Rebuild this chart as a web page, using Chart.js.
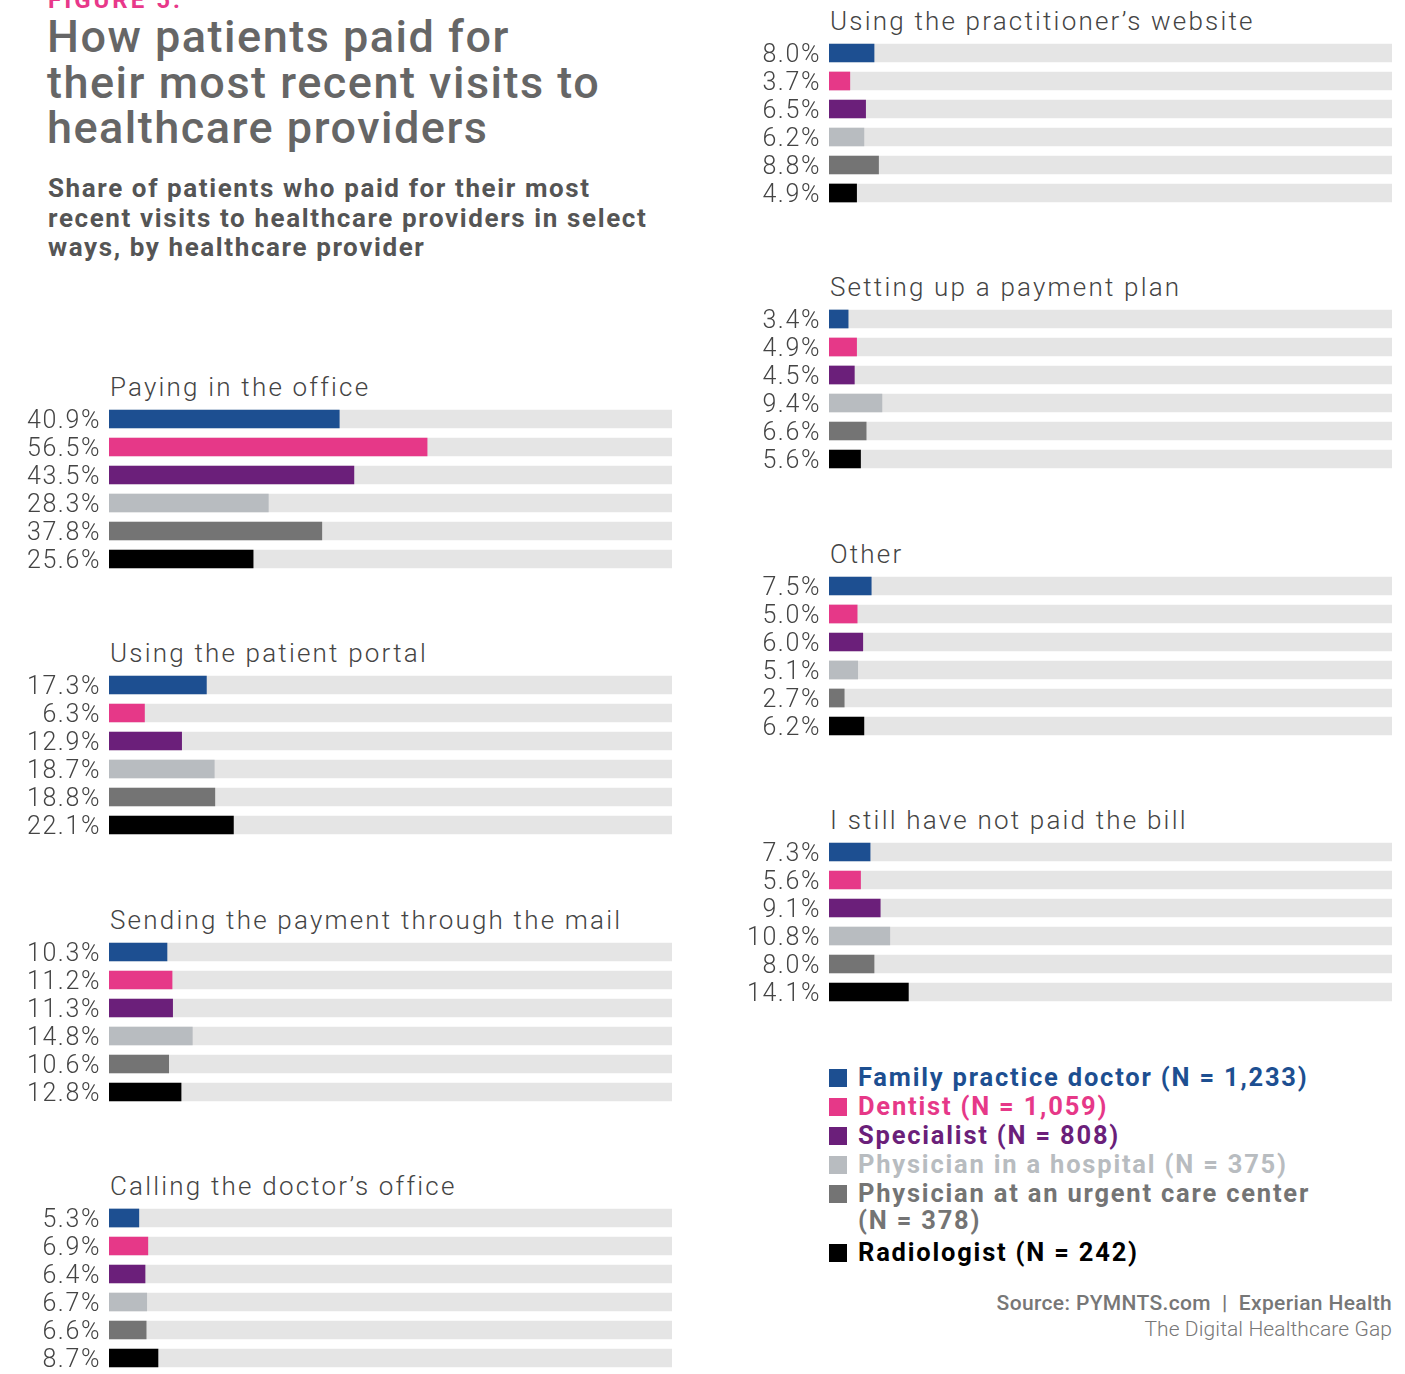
<!DOCTYPE html>
<html>
<head>
<meta charset="utf-8">
<script src="https://cdn.jsdelivr.net/npm/chart.js@4/dist/chart.umd.min.js"></script>
<style>
  html, body { margin: 0; padding: 0; background: #fff; }
  body { width: 1405px; height: 1374px; position: relative; overflow: hidden; font-family: Roboto, "Noto Sans", sans-serif; }
  .abs { position: absolute; }
  #figure { left: 48px; top: -14px; font-size: 24px; font-weight: 700; color: #e8388a; letter-spacing: 3px; }
  #title { left: 47px; top: 14px; font-size: 45px; font-weight: 500; color: #666; line-height: 45.5px; letter-spacing: 1.5px; white-space: nowrap; }
  #subtitle { left: 48px; top: 174px; font-size: 26px; font-weight: 700; color: #555; line-height: 29.5px; letter-spacing: 1.6px; white-space: nowrap; }
  .ptitle { font-size: 26px; font-weight: 300; color: #444; letter-spacing: 2.2px; white-space: nowrap; }
  #legend { left: 829px; top: 1064px; width: 500px; }
  .item { position: relative; padding-left: 29px; font-size: 25.5px; font-weight: 700; line-height: 27px; margin-bottom: 2px; letter-spacing: 1.8px; }
  .item:last-child { margin-top: 5px; }
  .item .sw { position: absolute; left: 0; top: 5px; width: 18px; height: 18px; }
  #source { right: 13px; top: 1290px; text-align: right; color: #777; font-size: 21px; line-height: 26px; }
  #source .b { font-weight: 500; letter-spacing: 0.35px; }
  #source .l { font-weight: 300; letter-spacing: 0.1px; }
</style>
</head>
<body>
<div id="figure" class="abs">FIGURE 5:</div>
<div id="title" class="abs">How patients paid for<br>their most recent visits to<br>healthcare providers</div>
<div id="subtitle" class="abs">Share of patients who paid for their most<br>recent visits to healthcare providers in select<br>ways, by healthcare provider</div>
<div id="legend" class="abs"></div>
<div id="source" class="abs"><span class="b">Source: PYMNTS.com&nbsp; |&nbsp; Experian Health</span><br><span class="l">The Digital Healthcare Gap</span></div>

<script>
const providers = [
  "Family practice doctor (N = 1,233)",
  "Dentist (N = 1,059)",
  "Specialist (N = 808)",
  "Physician in a hospital (N = 375)",
  "Physician at an urgent care center (N = 378)",
  "Radiologist (N = 242)"
];
const providerColors = ["#1d4f91", "#e63888", "#6b1f7a", "#b8bcc0", "#747474", "#000000"];
const trackColor = "#e5e5e5";

const methods = [
  "Paying in the office",
  "Using the patient portal",
  "Sending the payment through the mail",
  "Calling the doctor\u2019s office",
  "Using the practitioner\u2019s website",
  "Setting up a payment plan",
  "Other",
  "I still have not paid the bill"
];

const payingInOffice = [40.9, 56.5, 43.5, 28.3, 37.8, 25.6];
const patientPortal = [17.3, 6.3, 12.9, 18.7, 18.8, 22.1];
const throughMail = [10.3, 11.2, 11.3, 14.8, 10.6, 12.8];
const callingOffice = [5.3, 6.9, 6.4, 6.7, 6.6, 8.7];
const practitionerWebsite = [8.0, 3.7, 6.5, 6.2, 8.8, 4.9];
const paymentPlan = [3.4, 4.9, 4.5, 9.4, 6.6, 5.6];
const other = [7.5, 5.0, 6.0, 5.1, 2.7, 6.2];
const notPaid = [7.3, 5.6, 9.1, 10.8, 8.0, 14.1];

const methodValues = [payingInOffice, patientPortal, throughMail, callingOffice,
  practitionerWebsite, paymentPlan, other, notPaid];

// panel placement: first four in the left column, rest on the right
function panelPos(i) {
  const col = i < 4 ? 0 : 1;
  const row = i % 4;
  return { left: col === 0 ? 0 : 720, top: Math.round((col === 0 ? 405 : 39) + row * 266.3) };
}

// widen the light tick digits a little and sit them a touch lower,
// the scale labels are drawn before the bars so undo the shift there
const tickStylePlugin = {
  id: "tickStyle",
  beforeDraw(chart) {
    chart.ctx.letterSpacing = "1.6px";
    chart.ctx.save();
    chart.ctx.translate(0, 3);
  },
  beforeDatasetsDraw(chart) {
    chart.ctx.restore();
  }
};

function makePanel(i) {
  const pos = panelPos(i);
  const values = methodValues[i];

  const title = document.createElement("div");
  title.className = "abs ptitle";
  title.textContent = methods[i];
  title.style.left = (pos.left + 110) + "px";
  title.style.top = (pos.top - 33) + "px";
  document.body.appendChild(title);

  const canvas = document.createElement("canvas");
  canvas.className = "abs";
  canvas.width = 672;
  canvas.height = 168;
  canvas.style.left = pos.left + "px";
  canvas.style.top = pos.top + "px";
  document.body.appendChild(canvas);

  new Chart(canvas, {
    type: "bar",
    data: {
      labels: values.map(v => v.toFixed(1) + "%"),
      datasets: [
        {
          data: values,
          backgroundColor: providerColors,
          barThickness: 18,
          grouped: false,
          order: 1
        },
        {
          data: values.map(() => 100),
          backgroundColor: trackColor,
          barThickness: 18,
          grouped: false,
          order: 2
        }
      ]
    },
    options: {
      indexAxis: "y",
      responsive: false,
      animation: false,
      layout: { padding: 0 },
      plugins: { legend: { display: false }, tooltip: { enabled: false } },
      scales: {
        x: { display: false, min: 0, max: 100 },
        y: {
          grid: { display: false, drawTicks: false },
          border: { display: false },
          afterFit: function (scale) {
            scale.width = 109;
            scale.paddingTop = 0;
            scale.paddingBottom = 0;
          },
          ticks: {
            autoSkip: false,
            padding: 8,
            color: "#444",
            font: { family: "Roboto", size: 25, weight: 300 }
          }
        }
      }
    },
    plugins: [tickStylePlugin]
  });
}

methods.forEach((m, i) => makePanel(i));

const legend = document.getElementById("legend");
providers.forEach((name, i) => {
  const item = document.createElement("div");
  item.className = "item";
  item.style.color = providerColors[i];
  item.innerHTML = '<span class="sw" style="background:' + providerColors[i] + '"></span>' + name;
  legend.appendChild(item);
});
</script>
</body>
</html>
